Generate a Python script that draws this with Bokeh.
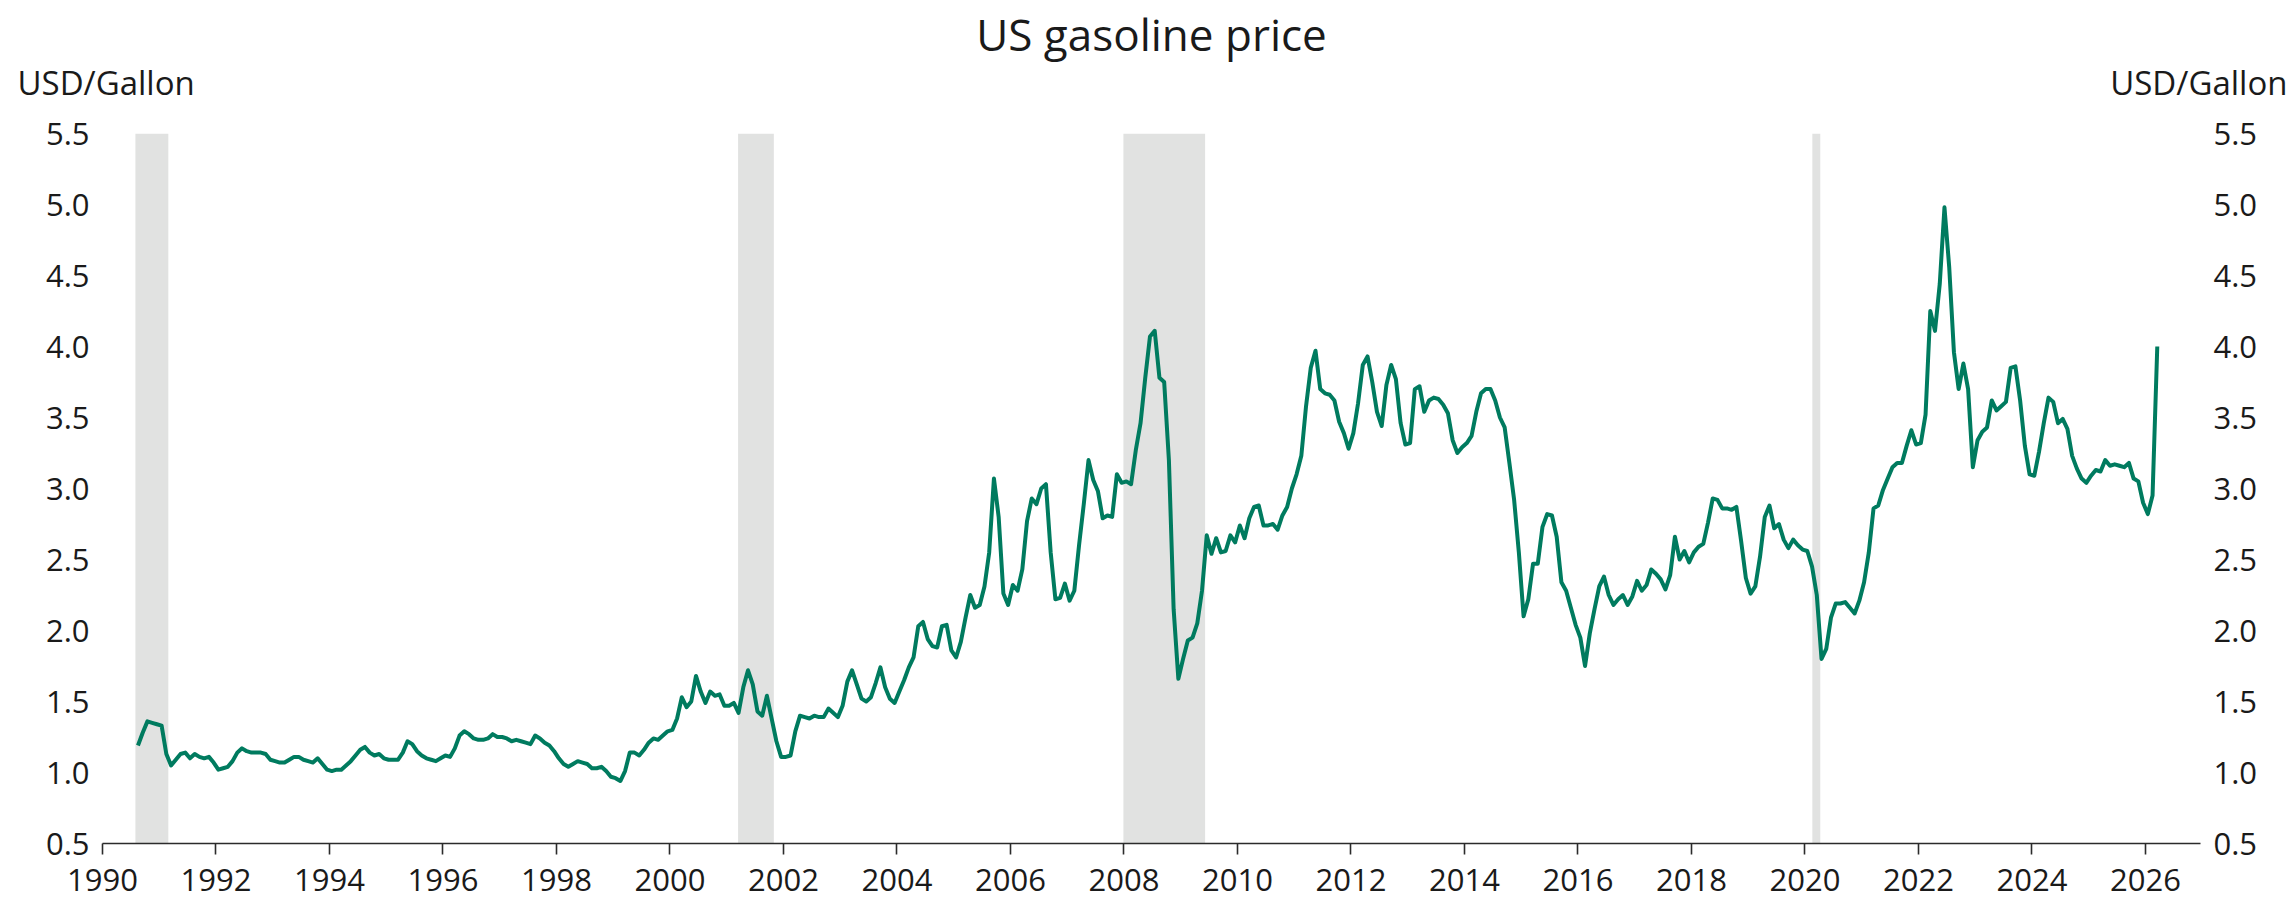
from bokeh.plotting import figure
from bokeh.layouts import column
from bokeh.models import Range1d, LinearAxis, FixedTicker, NumeralTickFormatter
from bokeh.core.properties import value
from bokeh.embed import file_html
from bokeh.resources import INLINE

# ---------------- data ----------------
title_text = "US gasoline price"
unit_text = "USD/Gallon"
x_ticks = list(range(1990, 2027, 2))
y_ticks = [0.5, 1.0, 1.5, 2.0, 2.5, 3.0, 3.5, 4.0, 4.5, 5.0, 5.5]

recession_start = [1990.58, 2001.20, 2007.99, 2020.13]
recession_end = [1991.16, 2001.83, 2009.43, 2020.27]

# monthly US gasoline price, USD/gallon, from Aug 1990
first_year, first_month = 1990, 8
prices_1990s = [
    1.19, 1.28, 1.36, 1.35, 1.34,
    1.33, 1.13, 1.05, 1.09, 1.13, 1.14, 1.10, 1.13, 1.11, 1.10, 1.11, 1.07,
    1.02, 1.03, 1.04, 1.08, 1.14, 1.17, 1.15, 1.14, 1.14, 1.14, 1.13, 1.09,
    1.08, 1.07, 1.07, 1.09, 1.11, 1.11, 1.09, 1.08, 1.07, 1.10, 1.06, 1.02,
    1.01, 1.02, 1.02, 1.05, 1.08, 1.12, 1.16, 1.18, 1.14, 1.12, 1.13, 1.10,
    1.09, 1.09, 1.09, 1.14, 1.22, 1.20, 1.15, 1.12, 1.10, 1.09, 1.08, 1.10,
    1.12, 1.11, 1.17, 1.26, 1.29, 1.27, 1.24, 1.23, 1.23, 1.24, 1.27, 1.25,
    1.25, 1.24, 1.22, 1.23, 1.22, 1.21, 1.20, 1.26, 1.24, 1.21, 1.19, 1.15,
    1.10, 1.06, 1.04, 1.06, 1.08, 1.07, 1.06, 1.03, 1.03, 1.04, 1.01, 0.97,
    0.96, 0.94, 1.01, 1.14, 1.14, 1.12, 1.16, 1.21, 1.24, 1.23, 1.26, 1.29,
]
prices_2000s = [
    1.30, 1.38, 1.53, 1.46, 1.50, 1.68, 1.57, 1.49, 1.57, 1.54, 1.55, 1.47,
    1.47, 1.49, 1.42, 1.60, 1.72, 1.62, 1.43, 1.40, 1.54, 1.38, 1.22, 1.11,
    1.11, 1.12, 1.29, 1.40, 1.39, 1.38, 1.40, 1.39, 1.39, 1.45, 1.42, 1.39,
    1.47, 1.64, 1.72, 1.62, 1.52, 1.50, 1.53, 1.63, 1.74, 1.60, 1.52, 1.49,
    1.57, 1.65, 1.74, 1.81, 2.03, 2.06, 1.94, 1.89, 1.88, 2.03, 2.04, 1.86,
    1.81, 1.92, 2.09, 2.25, 2.16, 2.18, 2.31, 2.55, 3.07, 2.80, 2.26, 2.18,
    2.32, 2.28, 2.43, 2.77, 2.93, 2.89, 3.00, 3.03, 2.55, 2.22, 2.23, 2.33,
    2.21, 2.28, 2.60, 2.89, 3.20, 3.06, 2.98, 2.79, 2.81, 2.80, 3.10, 3.04,
    3.05, 3.03, 3.27, 3.46, 3.78, 4.07, 4.11, 3.78, 3.75, 3.20, 2.15, 1.66,
    1.80, 1.93, 1.95, 2.05, 2.28, 2.67, 2.54, 2.65, 2.55, 2.56, 2.67, 2.62,
]
prices_2010s = [
    2.74, 2.65, 2.79, 2.87, 2.88, 2.74, 2.74, 2.75, 2.71, 2.81, 2.87, 3.00,
    3.10, 3.23, 3.58, 3.85, 3.97, 3.70, 3.67, 3.66, 3.62, 3.47, 3.39, 3.28,
    3.39, 3.60, 3.87, 3.93, 3.75, 3.54, 3.44, 3.73, 3.87, 3.77, 3.46, 3.31,
    3.32, 3.70, 3.72, 3.54, 3.62, 3.64, 3.63, 3.59, 3.53, 3.34, 3.25, 3.29,
    3.32, 3.37, 3.54, 3.67, 3.70, 3.70, 3.62, 3.50, 3.43, 3.18, 2.92, 2.55,
    2.10, 2.22, 2.47, 2.47, 2.73, 2.82, 2.81, 2.66, 2.34, 2.28, 2.16, 2.04,
    1.95, 1.75, 1.98, 2.15, 2.31, 2.38, 2.25, 2.18, 2.22, 2.25, 2.18, 2.24,
    2.35, 2.28, 2.32, 2.43, 2.40, 2.36, 2.29, 2.39, 2.66, 2.50, 2.56, 2.48,
    2.55, 2.59, 2.61, 2.76, 2.93, 2.92, 2.86, 2.86, 2.85, 2.87, 2.63, 2.37,
    2.26, 2.31, 2.52, 2.80, 2.88, 2.72, 2.75, 2.64, 2.58, 2.64, 2.60, 2.57,
]
prices_2020s = [
    2.56, 2.45, 2.25, 1.80, 1.87, 2.09, 2.19, 2.19, 2.20, 2.16, 2.12, 2.21,
    2.34, 2.55, 2.86, 2.88, 2.99, 3.07, 3.15, 3.18, 3.18, 3.30, 3.41, 3.31,
    3.32, 3.52, 4.25, 4.11, 4.44, 4.98, 4.56, 3.96, 3.70, 3.88, 3.70, 3.15,
    3.34, 3.40, 3.43, 3.62, 3.55, 3.58, 3.61, 3.85, 3.86, 3.62, 3.30, 3.10,
    3.09, 3.26, 3.46, 3.64, 3.61, 3.46, 3.49, 3.42, 3.23, 3.14, 3.07, 3.04,
    3.09, 3.13, 3.12, 3.20, 3.16, 3.17, 3.16, 3.15, 3.18, 3.07, 3.05, 2.90,
    2.82, 2.95, 4.00,
]

prices = prices_1990s + prices_2000s + prices_2010s + prices_2020s
dates = [first_year + (first_month - 1 + i + 0.5) / 12.0 for i in range(len(prices))]

# ---------------- styling ----------------
FONT = "Open Sans"
TXT = "#1a1a1a"
LINE = "#007b5f"
BAND = "#e1e2e1"
AX = "#2b2b2b"

W = 2295
HEAD_H = 110
MAIN_H = 790
FRAME_L, FRAME_W = 102, 2098
FRAME_T, FRAME_H = 23, 710

# header strip with the title and unit labels (pixel coordinates, y downward)
head = figure(width=W, height=HEAD_H, output_backend="svg", toolbar_location=None,
              x_range=Range1d(0, W), y_range=Range1d(HEAD_H, 0),
              x_axis_type=None, y_axis_type=None,
              min_border=0, min_border_left=0, min_border_right=0,
              min_border_top=0, min_border_bottom=0)
head.title = None
head.outline_line_color = None
head.grid.visible = False
head.text(x=[1151], y=[33], text=[title_text], text_font=value(FONT),
          text_font_size="44px", text_color=TXT, text_align="center",
          text_baseline="alphabetic")
head.text(x=[17], y=[82], text=[unit_text], text_font=value(FONT),
          text_font_size="33px", text_color=TXT, text_align="left",
          text_baseline="alphabetic")
head.text(x=[2287], y=[82], text=[unit_text], text_font=value(FONT),
          text_font_size="33px", text_color=TXT, text_align="right",
          text_baseline="alphabetic")

# main chart
p = figure(width=W, height=MAIN_H, output_backend="svg", toolbar_location=None,
           x_range=Range1d(1990, 2026.97), y_range=Range1d(0.5, 5.5),
           min_border_left=FRAME_L, min_border_top=FRAME_T,
           min_border_right=W - FRAME_L - FRAME_W,
           min_border_bottom=MAIN_H - FRAME_T - FRAME_H)
p.title = None
p.outline_line_color = None
p.xgrid.visible = False
p.ygrid.visible = False
p.background_fill_color = "white"
p.border_fill_color = "white"

# do not let the column align the two plot frames
head.frame_align = False
p.frame_align = False

p.quad(left=recession_start, right=recession_end, bottom=0.5, top=5.5,
       fill_color=BAND, line_color=None)
p.line(dates, prices, line_color=LINE, line_width=4, line_join="round")

xa = p.xaxis[0]
xa.ticker = FixedTicker(ticks=x_ticks)
xa.axis_line_color = AX
xa.axis_line_width = 1.6
xa.major_tick_line_color = AX
xa.major_tick_line_width = 1.6
xa.major_tick_out = 11
xa.major_tick_in = 0
xa.minor_tick_line_color = None
xa.major_label_standoff = 14
xa.major_label_text_font = FONT
xa.major_label_text_font_size = "31px"
xa.major_label_text_color = TXT


def style_y(ax):
    ax.ticker = FixedTicker(ticks=y_ticks)
    ax.formatter = NumeralTickFormatter(format="0.0")
    ax.axis_line_color = None
    ax.major_tick_line_color = None
    ax.minor_tick_line_color = None
    ax.major_tick_out = 0
    ax.major_tick_in = 0
    ax.major_label_standoff = 13
    ax.major_label_text_font = FONT
    ax.major_label_text_font_size = "31px"
    ax.major_label_text_color = TXT


style_y(p.yaxis[0])
ry = LinearAxis()
style_y(ry)
p.add_layout(ry, "right")

layout = column(head, p, spacing=0)
open("out.html", "w").write(file_html(layout, INLINE))
